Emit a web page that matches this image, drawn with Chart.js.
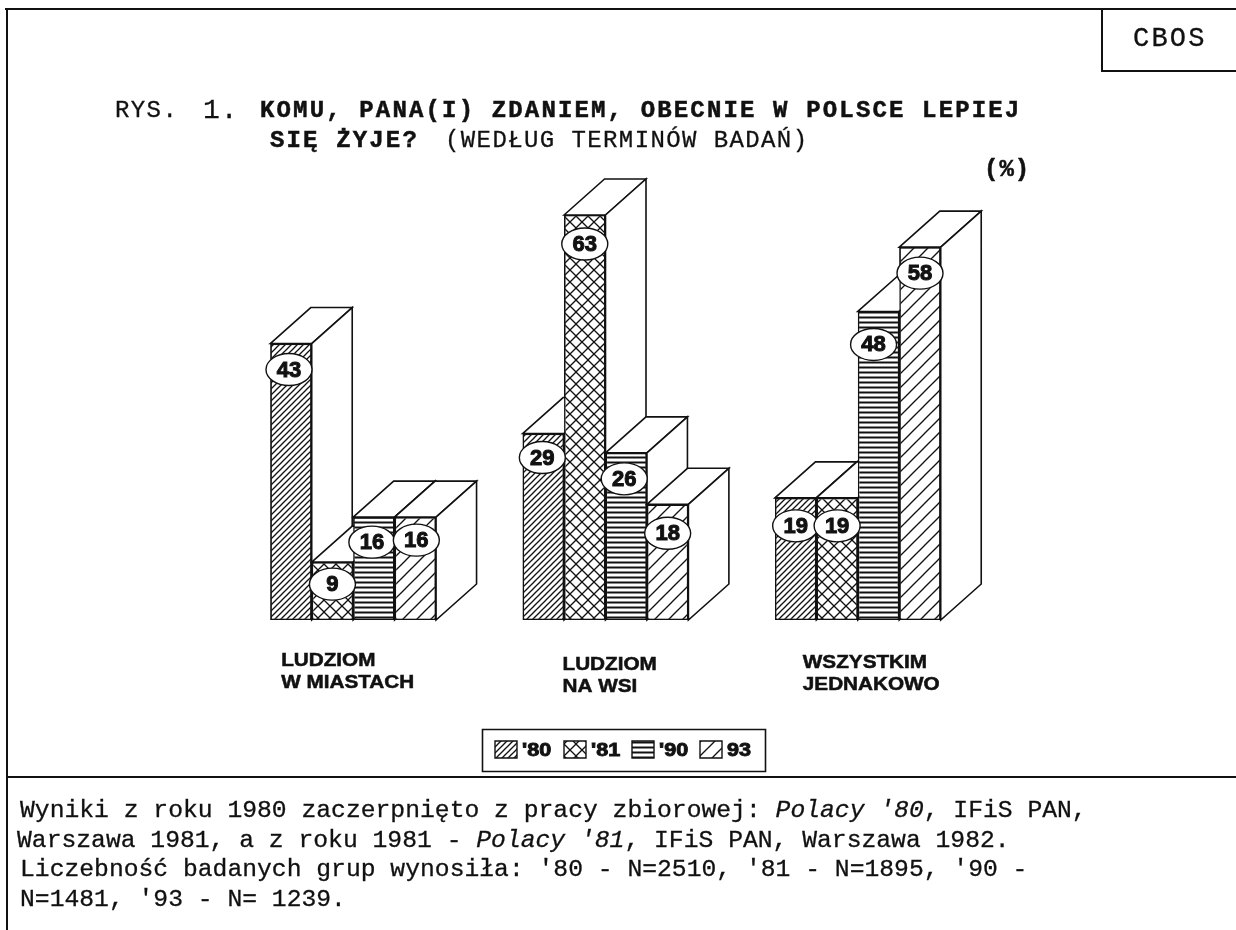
<!DOCTYPE html>
<html lang="pl">
<head>
<meta charset="utf-8">
<title>RYS. 1</title>
<script src="https://cdn.jsdelivr.net/npm/chart.js@4"></script>
<style>
html,body{margin:0;padding:0;background:#fff;width:1236px;height:930px;overflow:hidden}
#wrap{position:relative;width:1236px;height:930px}
canvas{position:absolute;left:0;top:0}
.t{position:absolute;white-space:pre;color:#111;font-family:"Liberation Mono",monospace;line-height:1;-webkit-text-stroke:0.3px #111}
.f{font-size:24.7px}
.ti{font-size:24px;letter-spacing:1.4px}
.bo{font-size:24px;letter-spacing:2.15px;font-weight:bold;-webkit-text-stroke:0.5px #111}
.r{position:absolute;background:#111}
</style>
</head>
<body>
<div id="wrap">
<canvas id="c" width="1236" height="930"></canvas>
<div class="r" style="left:5px;top:8px;width:1231px;height:2px"></div>
<div class="r" style="left:6px;top:8px;width:2px;height:922px"></div>
<div class="r" style="left:6px;top:776px;width:1230px;height:2px"></div>
<div class="r" style="left:1101px;top:8px;width:2px;height:64px"></div>
<div class="r" style="left:1101px;top:70px;width:135px;height:2px"></div>
<div class="t" style="left:1133px;top:26px;font-size:27px;letter-spacing:2.2px">CBOS</div>
<div class="t ti" style="left:115px;top:99px">RYS.</div>
<div class="t" style="left:203px;top:97px;font-size:28px;letter-spacing:1px">1.</div>
<div class="t bo" style="left:260px;top:99px">KOMU, PANA(I) ZDANIEM, OBECNIE W POLSCE LEPIEJ</div>
<div class="t bo" style="left:270px;top:129px">SIĘ ŻYJE?</div>
<div class="t ti" style="left:445px;top:129px">(WEDŁUG TERMINÓW BADAŃ)</div>
<div class="t bo" style="left:984px;top:158px;letter-spacing:1px">(%)</div>
<div class="t f" style="left:20px;top:798px">Wyniki z roku 1980 zaczerpnięto z pracy zbiorowej: <i>Polacy '80</i>, IFiS PAN,</div>
<div class="t f" style="left:17px;top:828px">Warszawa 1981, a z roku 1981 - <i>Polacy '81</i>, IFiS PAN, Warszawa 1982.</div>
<div class="t f" style="left:20px;top:857px">Liczebność badanych grup wynosiła: '80 - N=2510, '81 - N=1895, '90 -</div>
<div class="t f" style="left:20px;top:887px">N=1481, '93 - N= 1239.</div>
</div>
<script>
const categories = [["LUDZIOM","W MIASTACH"],["LUDZIOM","NA WSI"],["WSZYSTKIM","JEDNAKOWO"]];
const seriesLabels = ["'80","'81","'90","93"];
const values80 = [43,29,19];
const values81 = [9,63,19];
const values90 = [16,26,48];
const values93 = [16,18,58];

// label placement tweaks, relative to each bar's top centre: [dx, dy]
const labelNudge = [
  [[-2,26],[-1,24],[0,28]],
  [[0,22],[0,29],[0,28]],
  [[-2,25],[-2,26],[-5,33]],
  [[1,23],[0,29],[0,26]]
];
const categoryLabelOffset = [[-72,661],[-43,665],[-55,663]];
const INK = '#111';
const DX = 40.5, DY = -36;

function tile(size, painter){
  const c = document.createElement('canvas');
  c.width = c.height = size;
  const g = c.getContext('2d');
  g.fillStyle = '#fff'; g.fillRect(0,0,size,size);
  g.strokeStyle = INK; g.lineWidth = 1.3;
  painter(g,size);
  return document.createElement('canvas').getContext('2d').createPattern(c,'repeat');
}
function seg(g,a,b,c,d){g.beginPath();g.moveTo(a,b);g.lineTo(c,d);g.stroke();}
function slash(g,s){seg(g,-1,s+1,s+1,-1);seg(g,-1,1,1,-1);seg(g,s-1,s+1,s+1,s-1);}
function back(g,s){seg(g,-1,-1,s+1,s+1);seg(g,-1,s-1,1,s+1);seg(g,s-1,-1,s+1,1);}
const patterns = [
  tile(6,(g,s)=>slash(g,s)),
  tile(12,(g,s)=>{slash(g,s);back(g,s);}),
  tile(5,(g,s)=>{g.lineWidth=2;seg(g,0,2.5,s,2.5);}),
  tile(14,(g,s)=>slash(g,s))
];
const seriesValues = [values80,values81,values90,values93];

function wideText(ctx,txt,x,y,sx,sw){
  ctx.save();
  ctx.translate(x,y);ctx.scale(sx,1);
  ctx.lineWidth=sw;ctx.strokeStyle=INK;
  ctx.strokeText(txt,0,0);ctx.fillText(txt,0,0);
  ctx.restore();
}

const depthAndLabels = {
  id:'depthAndLabels',
  afterDatasetsDraw(chart){
    const ctx = chart.ctx;
    ctx.save();
    ctx.lineJoin='miter';
    const base = chart.scales.y.getPixelForValue(0);
    chart.data.labels.forEach((_,ci)=>{
      chart.data.datasets.forEach((ds,si)=>{
        const el = chart.getDatasetMeta(si).data[ci];
        const half = el.width/2, l = el.x-half, r = el.x+half, t = el.y;
        ctx.fillStyle='#fff'; ctx.strokeStyle=INK; ctx.lineWidth=1.6;
        ctx.beginPath();
        ctx.moveTo(l,t);ctx.lineTo(l+DX,t+DY);ctx.lineTo(r+DX,t+DY);ctx.lineTo(r,t);ctx.closePath();
        ctx.fill();ctx.stroke();
        ctx.beginPath();
        ctx.moveTo(r,t);ctx.lineTo(r+DX,t+DY);ctx.lineTo(r+DX,base+DY);ctx.lineTo(r,base);ctx.closePath();
        ctx.fill();ctx.stroke();
        el.draw(ctx);
      });
    });
    // value ovals
    chart.data.datasets.forEach((ds,si)=>{
      chart.getDatasetMeta(si).data.forEach((el,ci)=>{
        const n = labelNudge[si][ci];
        const x = el.x+n[0], y = el.y+n[1];
        ctx.beginPath();ctx.ellipse(x,y,23,16,0,0,Math.PI*2);
        ctx.fillStyle='#fff';ctx.fill();
        ctx.strokeStyle=INK;ctx.lineWidth=1.4;ctx.stroke();
        ctx.fillStyle=INK;ctx.font='bold 22px "Liberation Sans",sans-serif';
        ctx.textAlign='center';ctx.textBaseline='middle';
        ctx.lineWidth=1;ctx.strokeText(String(ds.data[ci]),x,y+1);
        ctx.fillText(String(ds.data[ci]),x,y+1);
      });
    });
    // category labels
    const xs = chart.scales.x;
    ctx.fillStyle=INK;ctx.textAlign='left';ctx.textBaseline='middle';
    ctx.font='bold 18px "Liberation Sans",sans-serif';
    chart.data.labels.forEach((lines,ci)=>{
      const o = categoryLabelOffset[ci], x = xs.getPixelForValue(ci)+o[0];
      lines.forEach((ln,i)=>wideText(ctx,ln,x,o[1]+i*22,1.15,0.5));
    });
    // legend
    ctx.strokeStyle=INK;ctx.lineWidth=1.6;ctx.fillStyle='#fff';
    ctx.beginPath();ctx.rect(482.5,729.5,283,42);ctx.fill();ctx.stroke();
    const sw=[495,564,632,700];
    chart.data.datasets.forEach((ds,si)=>{
      ctx.fillStyle=ds.backgroundColor;ctx.strokeStyle=INK;ctx.lineWidth=1.4;
      ctx.beginPath();ctx.rect(sw[si],741,22,17);ctx.fill();ctx.stroke();
      ctx.fillStyle=INK;ctx.font='bold 18px "Liberation Sans",sans-serif';
      ctx.textAlign='left';ctx.textBaseline='middle';
      wideText(ctx,ds.label,sw[si]+27,751,1.2,0.9);
    });
    ctx.restore();
  }
};

new Chart(document.getElementById('c'),{
  type:'bar',
  data:{
    labels:categories,
    datasets:seriesValues.map((d,i)=>({
      label:seriesLabels[i],data:d,backgroundColor:patterns[i],
      borderColor:INK,borderWidth:1.6,borderSkipped:false,
      categoryPercentage:0.657,barPercentage:1
    }))
  },
  options:{
    responsive:false,animation:false,
    layout:{padding:{left:227,right:252,top:170,bottom:310}},
    plugins:{legend:{display:false},title:{display:false},tooltip:{enabled:false}},
    scales:{
      x:{display:false,grid:{display:false}},
      y:{display:false,min:0,max:70,grid:{display:false}}
    }
  },
  plugins:[depthAndLabels]
});
</script>
</body>
</html>
